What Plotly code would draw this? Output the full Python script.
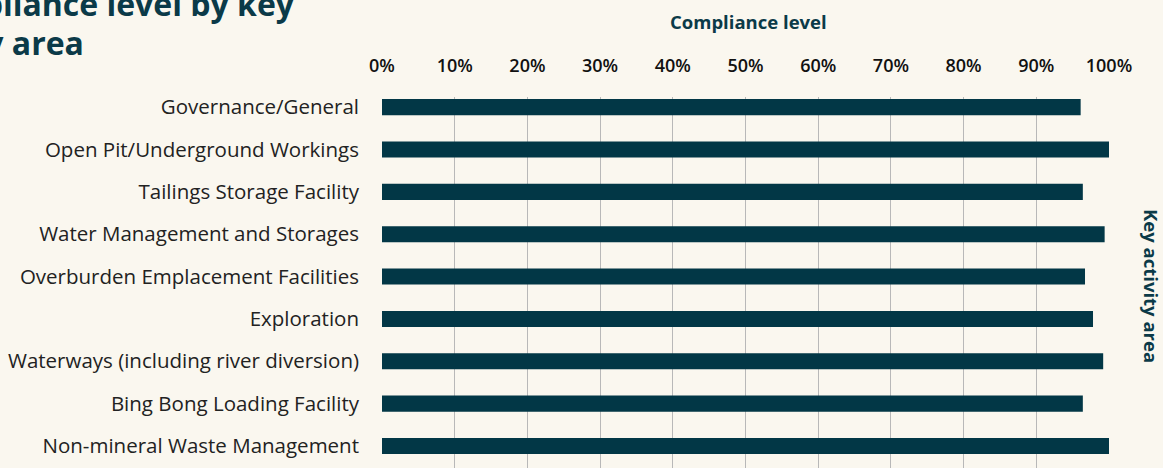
import plotly.graph_objects as go

categories = [
    "Governance/General",
    "Open Pit/Underground Workings",
    "Tailings Storage Facility",
    "Water Management and Storages",
    "Overburden Emplacement Facilities",
    "Exploration",
    "Waterways (including river diversion)",
    "Bing Bong Loading Facility",
    "Non-mineral Waste Management",
]
compliance = [96.1, 100.0, 96.4, 99.4, 96.7, 97.8, 99.2, 96.4, 100.0]
tick_vals = [0, 10, 20, 30, 40, 50, 60, 70, 80, 90, 100]
tick_text = [f"{v}%" for v in tick_vals]

BG = "#faf7ef"
DARK = "#023746"
TITLE = "#0b3a48"
FONT = "Open Sans"

W, H = 1163, 468
L, R, T, B = 382, 54, 97, 0
pw = W - L - R
ph = H - T - B


def px_x(px):
    return (px - L) / pw


def px_y(py):
    return (H - B - py) / ph


fig = go.Figure(
    go.Bar(
        x=compliance,
        y=categories,
        orientation="h",
        marker=dict(color=DARK, line=dict(width=0)),
        width=0.38,
    )
)

fig.update_layout(
    width=W,
    height=H,
    margin=dict(l=L, r=R, t=T, b=B, pad=0),
    paper_bgcolor=BG,
    plot_bgcolor=BG,
    showlegend=False,
    font=dict(family=FONT, color="#222222"),
    xaxis=dict(
        range=[0, 100],
        side="top",
        tickvals=tick_vals,
        ticktext=tick_text,
        showgrid=True,
        gridcolor="#b8b8b8",
        gridwidth=1,
        zeroline=False,
        showline=False,
        ticks="",
        ticklabelstandoff=20,
        tickfont=dict(size=18, color="#111111", family=FONT, weight=600),
        fixedrange=True,
    ),
    yaxis=dict(
        categoryorder="array",
        categoryarray=categories,
        range=[8.52, -0.24],
        showgrid=False,
        zeroline=False,
        showline=False,
        ticks="",
        ticklabelstandoff=22,
        tickfont=dict(size=20.5, color="#222222", family=FONT),
        fixedrange=True,
    ),
)

annotations = [
    dict(text="<b>Compliance level</b>", x=px_x(748), y=px_y(21), xref="paper", yref="paper",
         xanchor="center", yanchor="middle", showarrow=False,
         font=dict(size=18.5, color=TITLE, family=FONT)),
    dict(text="<b>Key activity area</b>", x=px_x(1152), y=px_y(286), xref="paper", yref="paper",
         xanchor="center", yanchor="middle", showarrow=False, textangle=90,
         font=dict(size=18.5, color=TITLE, family=FONT)),
    dict(text="<b>Compliance level by key</b>", x=px_x(297), y=px_y(4), xref="paper", yref="paper",
         xanchor="right", yanchor="middle", showarrow=False,
         font=dict(size=32, color=TITLE, family=FONT)),
    dict(text="<b>activity area</b>", x=px_x(86), y=px_y(43), xref="paper", yref="paper",
         xanchor="right", yanchor="middle", showarrow=False,
         font=dict(size=32, color=TITLE, family=FONT)),
]
fig.update_layout(annotations=annotations)

fig.write_html(
    "out.html",
    config={"displayModeBar": False},
    post_script="document.body.style.margin='0';document.body.style.background='" + BG + "';",
)
